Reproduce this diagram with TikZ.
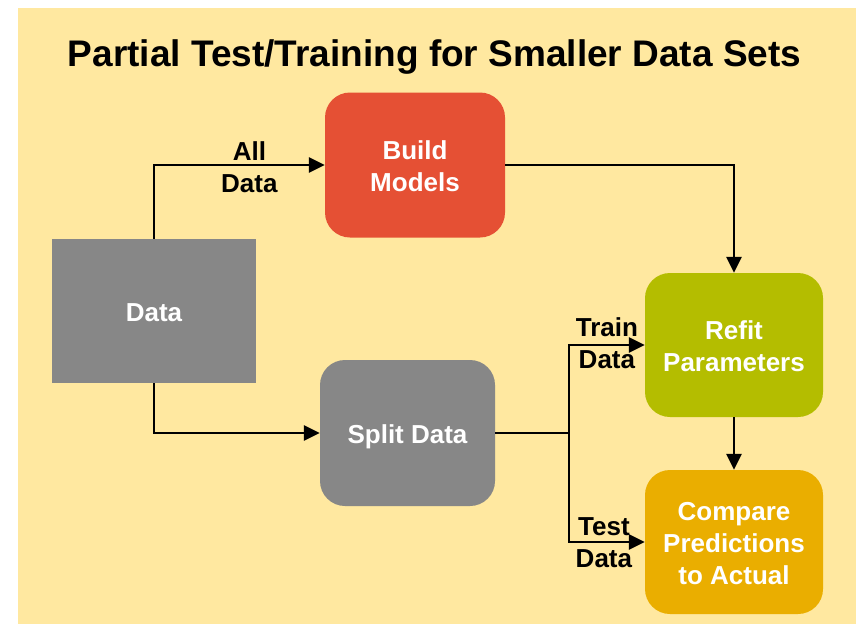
\documentclass[tikz,border=0pt]{standalone}
\usepackage{fontspec}
\setmainfont{Liberation Sans}
\usetikzlibrary{arrows.meta}
\definecolor{bgyellow}{RGB}{255,232,160}
\definecolor{boxgray}{RGB}{135,135,135}
\definecolor{boxred}{RGB}{229,80,52}
\definecolor{boxolive}{RGB}{180,189,0}
\definecolor{boxamber}{RGB}{234,174,0}
\newcommand{\boxtext}[1]{\raisebox{-10.5pt}[0pt][0pt]{\begin{tabular}{@{}c@{}}#1\end{tabular}}}
\tikzset{
  box/.style={minimum width=180pt, minimum height=145pt, inner sep=0pt, align=center,
    text=white, font=\fontsize{26}{32}\selectfont\bfseries, rounded corners=25pt},
  arr/.style={line width=2.8pt, -{Triangle[length=16pt,width=15pt]}},
  plain/.style={line width=2.8pt},
  lbl/.style={align=center, font=\fontsize{26}{32}\selectfont\bfseries, inner sep=0pt}
}
\begin{document}
\begin{tikzpicture}[x=1pt,y=-1pt]
\useasboundingbox (0,0) rectangle (856,624);
\fill[bgyellow] (18,8) rectangle (856,624);
\node[font=\fontsize{37}{44}\selectfont\bfseries, anchor=base] (title) at (434.5,66) {Partial Test/Training for Smaller Data Sets};
\node[box, fill=boxgray, rounded corners=0pt, minimum width=204pt, minimum height=144pt] (data) at (154,311) {\boxtext{Data}};
\node[box, fill=boxred] (build) at (415,165) {\boxtext{Build\\Models}};
\node[box, fill=boxgray, minimum width=175pt, minimum height=146pt] (split) at (407.5,433) {\boxtext{Split Data}};
\node[box, fill=boxolive, minimum width=178pt, minimum height=144pt] (refit) at (734,345) {\boxtext{Refit\\Parameters}};
\node[box, fill=boxamber, minimum width=178pt, minimum height=144pt] (cmp) at (734,542) {\boxtext{Compare\\Predictions\\to Actual}};
\coordinate (j) at (569,433);
\draw[arr] (data.north) |- node[lbl, pos=0.75, xshift=10pt, yshift=-2pt] {All\\Data} (build.west);
\draw[arr] (build.east) -| (refit.north);
\draw[arr] (data.south) |- (split.west);
\draw[plain] (split.east) -- (j);
\draw[arr] (j) |- node[lbl, pos=0.75, yshift=2pt] {Train\\Data} (refit.west);
\draw[arr] (j) |- node[lbl, pos=0.75, xshift=-3pt, yshift=-1pt] {Test\\Data} (cmp.west);
\draw[arr] (refit.south) -- (cmp.north);
\end{tikzpicture}
\end{document}
